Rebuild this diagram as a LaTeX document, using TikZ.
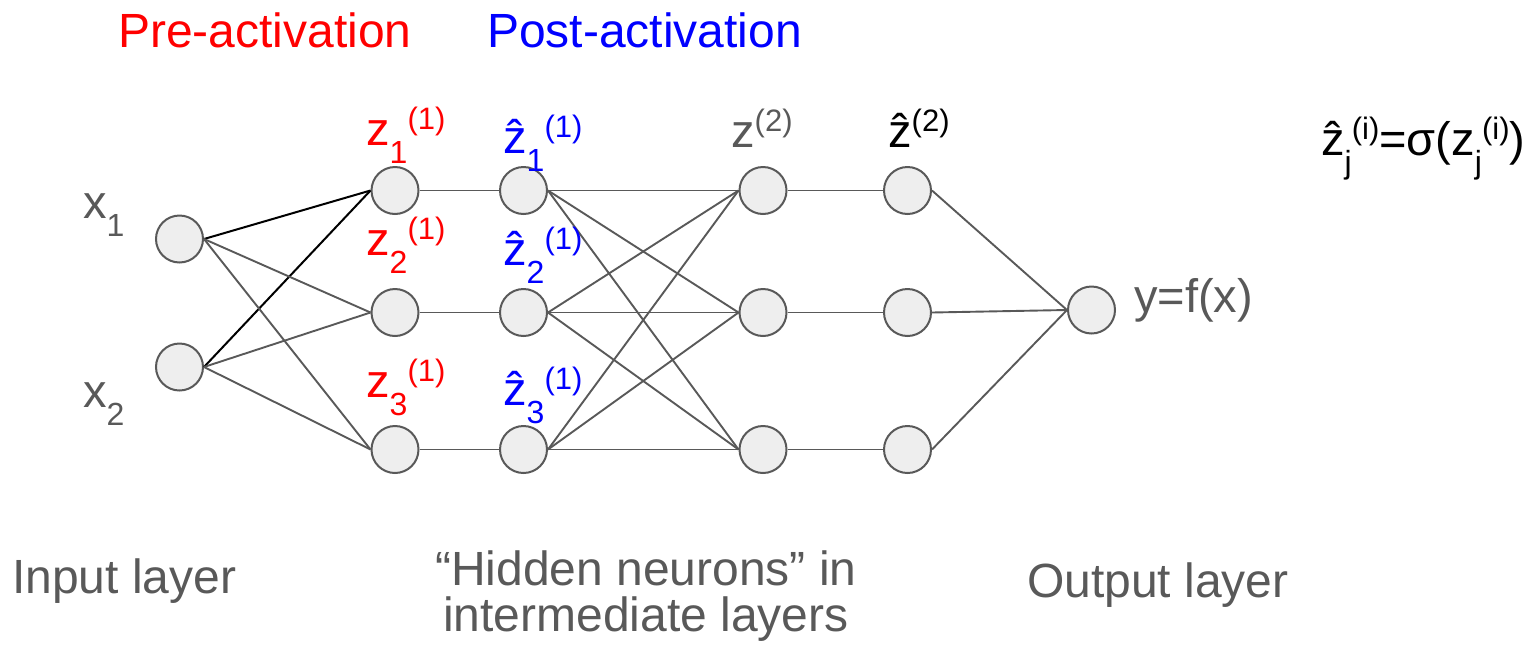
\documentclass[tikz,border=0pt]{standalone}
\usepackage{fontspec}
\setmainfont{Liberation Sans}
\definecolor{txtgray}{HTML}{595959}
\definecolor{nodefill}{HTML}{EEEEEE}
\definecolor{nodeborder}{HTML}{595959}
\definecolor{edgegray}{HTML}{595959}
\definecolor{pred}{HTML}{FF0000}
\definecolor{pblue}{HTML}{0000FF}
\newcommand{\lsub}[1]{\raisebox{-18pt}{\fontsize{32}{32}\selectfont #1}}
\newcommand{\lsup}[1]{\raisebox{16pt}{\fontsize{31}{31}\selectfont #1}}
\begin{document}
\begin{tikzpicture}[x=1pt,y=-1pt,
  neuron/.style={circle, draw=nodeborder, fill=nodefill, line width=2pt, minimum size=47pt, inner sep=0pt},
  edge/.style={draw=edgegray, line width=1.9pt},
  bedge/.style={draw=black, line width=2pt},
  lbl/.style={anchor=base west, inner sep=0pt, font=\fontsize{47}{47}\selectfont},
  big/.style={anchor=base west, inner sep=0pt, font=\fontsize{48}{48}\selectfont, text=txtgray},
]
\useasboundingbox (0,0) rectangle (1536,646);
% neurons
\node[neuron] (x1) at (179.5,239) {};
\node[neuron] (x2) at (179.5,367) {};
\node[neuron] (a1) at (395,190.5) {};
\node[neuron] (a2) at (395,312.5) {};
\node[neuron] (a3) at (395,449.5) {};
\node[neuron] (h1) at (523.5,190.5) {};
\node[neuron] (h2) at (523.5,312.5) {};
\node[neuron] (h3) at (523.5,449.5) {};
\node[neuron] (b1) at (763,190.5) {};
\node[neuron] (b2) at (763,312.5) {};
\node[neuron] (b3) at (763,449.5) {};
\node[neuron] (c1) at (907.5,190.5) {};
\node[neuron] (c2) at (907.5,312.5) {};
\node[neuron] (c3) at (907.5,449.5) {};
\node[neuron] (y) at (1091.5,310) {};
% edges
\draw[bedge] (x1.east) -- (a1.west);
\draw[bedge] (x2.east) -- (a1.west);
\foreach \s in {x1,x2}{
  \foreach \t in {a2,a3}{
    \draw[edge] (\s.east) -- (\t.west);
  }
}
\foreach \i in {1,2,3}{
  \draw[edge] (a\i.east) -- (h\i.west);
  \draw[edge] (b\i.east) -- (c\i.west);
  \draw[edge] (c\i.east) -- (y.west);
  \foreach \j in {1,2,3}{
    \draw[edge] (h\i.east) -- (b\j.west);
  }
}
% titles
\node[big, text=pred] (pre) at (118,47) {Pre-activation};
\node[big, text=pblue] (post) at (487,47) {Post-activation};
% labels
\node[lbl, text=txtgray] (lx1) at (83,218) {x\lsub{1}};
\node[lbl, text=txtgray] (lx2) at (83,407) {x\lsub{2}};
\node[lbl, text=pred] (la1) at (366,145) {z\lsub{1}\lsup{(1)}};
\node[lbl, text=pred] (la2) at (366,255) {z\lsub{2}\lsup{(1)}};
\node[lbl, text=pred] (la3) at (366,397) {z\lsub{3}\lsup{(1)}};
\node[lbl, text=pblue] (lh1) at (503,153) {ẑ\lsub{1}\lsup{(1)}};
\node[lbl, text=pblue] (lh2) at (503,265) {ẑ\lsub{2}\lsup{(1)}};
\node[lbl, text=pblue] (lh3) at (503,405) {ẑ\lsub{3}\lsup{(1)}};
\node[lbl, text=txtgray] (lb) at (731,147) {z\lsup{(2)}};
\node[lbl, text=black] (lc) at (888,147) {ẑ\lsup{(2)}};
\node[lbl, text=txtgray] (ly) at (1134,312) {y=f(x)};
\node[lbl, text=black] (formula) at (1321,155) {ẑ\lsub{j}\lsup{(i)}=σ(z\lsub{j}\lsup{(i)})};
% bottom captions
\node[big] (cin) at (12,593) {Input layer};
\node[big, anchor=base] (hid1) at (646,585) {“Hidden neurons” in};
\node[big, anchor=base] (hid2) at (646,631) {intermediate layers};
\node[big] (cout) at (1027,597) {Output layer};
\end{tikzpicture}
\end{document}
